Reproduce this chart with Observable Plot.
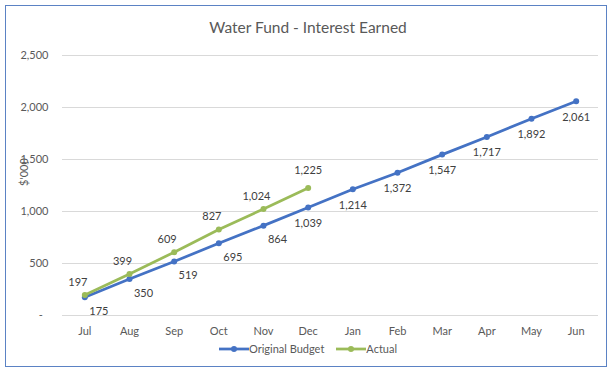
<!DOCTYPE html>
<html>
<head>
<meta charset="utf-8">
<script src="https://cdn.jsdelivr.net/npm/d3@7"></script>
<script src="https://cdn.jsdelivr.net/npm/@observablehq/plot@0.6"></script>
<style>
  body { margin: 0; background: #fff; font-family: Lato, "Open Sans", sans-serif; }
  #wrap { position: relative; width: 616px; height: 376px; }
  #border { position: absolute; left: 5px; top: 5px; width: 602px; height: 362px; border: 1px solid #5b82c4; box-sizing: border-box; }
  #title { position: absolute; left: 0; width: 616px; top: 18px; text-align: center; font-size: 15.5px; color: #595959; }
  #ylab { position: absolute; left: 23px; top: 172px; transform: translate(-50%, -50%) rotate(-90deg); font-size: 11px; color: #595959; white-space: nowrap; }
  #legend { position: absolute; left: 0; width: 616px; top: 342px; display: flex; justify-content: center; gap: 12px; font-size: 11px; color: #595959; align-items: center; }
  #legend .item { display: flex; align-items: center; }
  #plot { position: absolute; left: 0; top: 0; }
</style>
</head>
<body>
<div id="wrap">
  <div id="border"></div>
  <div id="plot"></div>
  <div id="title">Water Fund - Interest Earned</div>
  <div id="ylab">$'000</div>
  <div id="legend"></div>
</div>
<script>
const months = ["Jul","Aug","Sep","Oct","Nov","Dec","Jan","Feb","Mar","Apr","May","Jun"];
const budget = [175,350,519,695,864,1039,1214,1372,1547,1717,1892,2061];
const actual = [197,399,609,827,1024,1225];
const seriesNames = ["Original Budget", "Actual"];
const colors = ["#4472C4", "#9BBB59"];
const yTicks = [0, 500, 1000, 1500, 2000, 2500];

const budgetData = budget.map((v, i) => ({month: months[i], value: v, i}));
const actualData = actual.map((v, i) => ({month: months[i], value: v, i}));

const fmt = d3.format(",");
const txt = {fill: "#404040", fontSize: 11};

const chart = Plot.plot({
  width: 616,
  height: 376,
  marginTop: 55,
  marginBottom: 61,
  marginLeft: 62,
  marginRight: 18,
  style: {fontFamily: "Lato, 'Open Sans', sans-serif", fontSize: "11px", color: "#595959", background: "transparent"},
  x: {type: "point", domain: months, padding: 0.5, round: false, label: null},
  y: {domain: [0, 2500], label: null},
  marks: [
    Plot.gridY(yTicks, {stroke: "#d9d9d9", strokeOpacity: 1}),
    Plot.axisY(yTicks, {tickSize: 0, tickPadding: 14, label: null,
      tickFormat: d => d === 0 ? "-\u00a0\u00a0" : fmt(d), fill: "#595959", fontSize: 11}),
    Plot.axisX({tickSize: 0, tickPadding: 12, label: null, fill: "#595959", fontSize: 11}),
    Plot.line(budgetData, {x: "month", y: "value", stroke: colors[0], strokeWidth: 2.75}),
    Plot.dot(budgetData, {x: "month", y: "value", r: 3, fill: colors[0], stroke: "none"}),
    Plot.line(actualData, {x: "month", y: "value", stroke: colors[1], strokeWidth: 2.75}),
    Plot.dot(actualData, {x: "month", y: "value", r: 3, fill: colors[1], stroke: "none"}),
    Plot.text(budgetData.filter(d => d.i < 5), {x: "month", y: "value", text: d => fmt(d.value), dx: 14, dy: 14, ...txt}),
    Plot.text(budgetData.filter(d => d.i >= 5), {x: "month", y: "value", text: d => fmt(d.value), dx: 0, dy: 16, ...txt}),
    Plot.text(actualData.filter(d => d.i < actual.length - 1), {x: "month", y: "value", text: d => fmt(d.value), dx: -7, dy: -13, ...txt}),
    Plot.text(actualData.filter(d => d.i === actual.length - 1), {x: "month", y: "value", text: d => fmt(d.value), dx: 0, dy: -18, ...txt})
  ]
});
document.getElementById("plot").appendChild(chart);

const legend = document.getElementById("legend");
seriesNames.forEach((name, k) => {
  const item = document.createElement("div");
  item.className = "item";
  item.innerHTML = `<svg width="30" height="10"><line x1="0" x2="30" y1="5" y2="5" stroke="${colors[k]}" stroke-width="2.75"/><circle cx="15" cy="5" r="3" fill="${colors[k]}"/></svg><span>${name}</span>`;
  legend.appendChild(item);
});
</script>
</body>
</html>
